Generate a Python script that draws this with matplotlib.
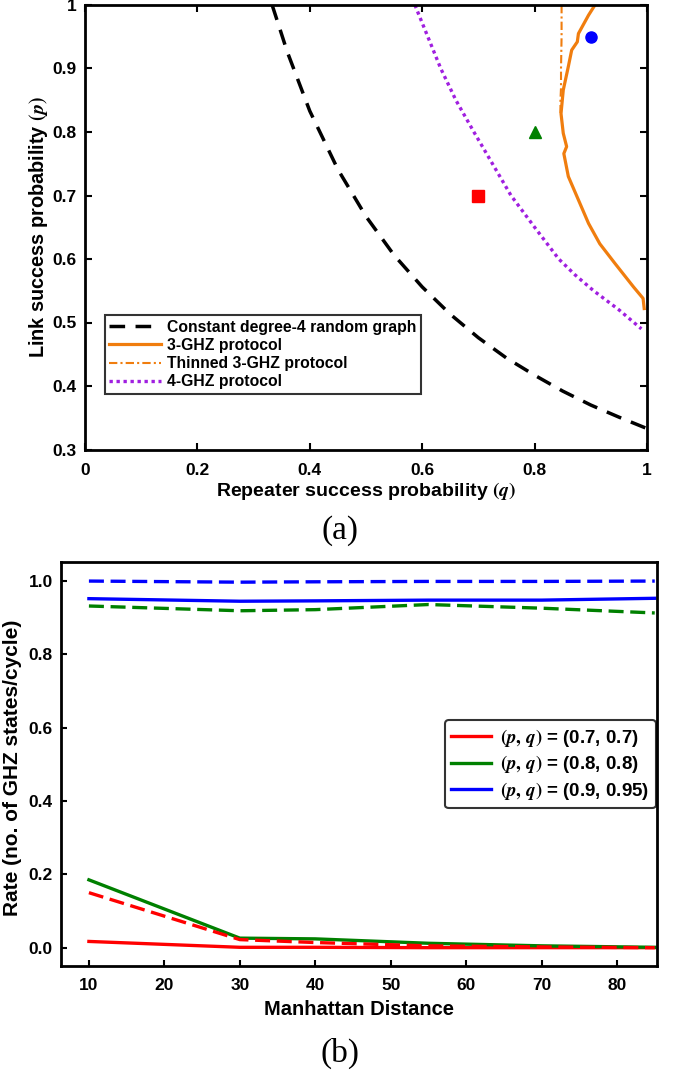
import numpy as np
import matplotlib
matplotlib.use("Agg")
import matplotlib.pyplot as plt
from matplotlib.ticker import FuncFormatter

plt.rcParams['font.family'] = ['Liberation Sans', 'DejaVu Sans']
plt.rcParams['font.weight'] = 'bold'
plt.rcParams['mathtext.fontset'] = 'stix'

# ---- panel (a): phase boundaries (q, p) ----
rg_q = [0.333, 0.36, 0.4, 0.45, 0.5, 0.55, 0.6, 0.65, 0.7, 0.75, 0.8, 0.85, 0.9, 0.95, 1.0]
rg_p = [1.0, 0.926, 0.833, 0.741, 0.667, 0.606, 0.556, 0.513, 0.476, 0.444, 0.417, 0.392, 0.370, 0.351, 0.333]

ghz3_q = [0.906, 0.896, 0.878, 0.876, 0.866, 0.860, 0.851, 0.847, 0.851, 0.857, 0.852,
          0.860, 0.878, 0.896, 0.916, 0.943, 0.976, 0.993, 0.995]
ghz3_p = [0.998, 0.984, 0.955, 0.942, 0.929, 0.903, 0.866, 0.829, 0.798, 0.777, 0.766,
          0.730, 0.693, 0.656, 0.624, 0.593, 0.556, 0.538, 0.522]

thin_q = [0.848, 0.848, 0.847, 0.847, 0.846, 0.846]
thin_p = [1.0, 0.95, 0.9, 0.87, 0.85, 0.83]

ghz4_q = [0.587, 0.61, 0.633, 0.66, 0.692, 0.725, 0.758, 0.80, 0.843, 0.872, 0.905, 0.95, 0.99]
ghz4_p = [1.0, 0.95, 0.9, 0.85, 0.8, 0.75, 0.7, 0.65, 0.6, 0.575, 0.55, 0.52, 0.49]

pts_q = [0.7, 0.8, 0.9]
pts_p = [0.7, 0.8, 0.95]
pts_col = ['red', 'green', 'blue']
pts_mark = ['s', '^', 'o']

# ---- panel (b): rate vs Manhattan distance ----
dist = [10, 30, 40, 55, 70, 85]
red_solid = [0.017, 0.001, 0.001, 0.0, 0.0, 0.0]
red_dash = [0.150, 0.022, 0.014, 0.005, 0.002, 0.0]
green_solid = [0.185, 0.026, 0.024, 0.012, 0.005, 0.001]
green_dash = [0.932, 0.919, 0.922, 0.936, 0.926, 0.913]
blue_solid = [0.952, 0.945, 0.946, 0.948, 0.948, 0.953]
blue_dash = [1.0, 0.997, 0.998, 0.999, 0.999, 1.0]
labels_b = [r'$(p,\,q)$ = (0.7, 0.7)', r'$(p,\,q)$ = (0.8, 0.8)', r'$(p,\,q)$ = (0.9, 0.95)']

fig = plt.figure(figsize=(6.85, 10.71), dpi=100)

# ---------------- top ----------------
ax = fig.add_axes([85/685, 1 - 449.5/1071, 562/685, 444.5/1071])
ax.plot(rg_q, rg_p, color='black', lw=2.5, ls=(0, (4.5, 3)), label='Constant degree-4 random graph')
ax.plot(ghz3_q, ghz3_p, color='#F07D0E', lw=2.3, label='3-GHZ protocol')
ax.plot(thin_q, thin_p, color='#F07D0E', lw=1.5, ls=(0, (4, 1.5, 1, 1.5)), label='Thinned 3-GHZ protocol')
ax.plot(ghz4_q, ghz4_p, color='#A01FE0', lw=2.4, ls=(0, (1, 1.1)), label='4-GHZ protocol')
for q, p, c, m in zip(pts_q, pts_p, pts_col, pts_mark):
    ax.plot(q, p, marker=m, color=c, ms=8, ls='none')
ax.set_xlim(0, 1)
ax.set_ylim(0.3, 1)
ax.set_xticks([0, 0.2, 0.4, 0.6, 0.8, 1])
ax.set_yticks([0.3, 0.4, 0.5, 0.6, 0.7, 0.8, 0.9, 1])
fmt = FuncFormatter(lambda v, pos: '{:g}'.format(round(v, 2)))
ax.xaxis.set_major_formatter(fmt)
ax.yaxis.set_major_formatter(fmt)
ax.tick_params(direction='in', top=True, right=True, length=5, width=1.5, labelsize=12.5)
ax.tick_params(axis='x', pad=10)
ax.tick_params(axis='y', pad=6)
for s in ax.spines.values():
    s.set_linewidth(2)
ax.set_xlabel(r'Repeater success probability $(q)$', fontsize=14, fontweight='bold', labelpad=1)
ax.set_ylabel(r'Link success probability $(p)$', fontsize=14.3, fontweight='bold')
ax.yaxis.set_label_coords(-0.062, 0.5)
leg = ax.legend(loc='lower left', bbox_to_anchor=(0.035, 0.125), fontsize=11.3, frameon=True,
                fancybox=False, edgecolor='black', handlelength=3.3, borderpad=0.3,
                labelspacing=0.2, handletextpad=0.35, borderaxespad=0)
leg.get_frame().set_linewidth(1.5)

# ---------------- bottom ----------------
ax2 = fig.add_axes([61/685, 1 - 966/1071, 596/685, 404/1071])
ax2.plot(dist, red_solid, color='red', lw=2.4, label=labels_b[0])
ax2.plot(dist, green_solid, color='green', lw=2.4, label=labels_b[1])
ax2.plot(dist, blue_solid, color='blue', lw=2.4, label=labels_b[2])
ax2.plot(dist, red_dash, color='red', lw=2.4, ls=(0, (4.5, 2)))
ax2.plot(dist, green_dash, color='green', lw=2.4, ls=(0, (4.5, 2)))
ax2.plot(dist, blue_dash, color='blue', lw=2.4, ls=(0, (4.5, 2)))
ax2.set_xlim(6.3, 85.3)
ax2.set_ylim(-0.05, 1.052)
ax2.set_xticks([10, 20, 30, 40, 50, 60, 70, 80])
ax2.set_yticks([0.0, 0.2, 0.4, 0.6, 0.8, 1.0])
ax2.yaxis.set_major_formatter(FuncFormatter(lambda v, pos: '{:.1f}'.format(v)))
ax2.tick_params(direction='in', length=4.5, width=1.5, labelsize=12.5)
ax2.tick_params(axis='x', pad=9)
ax2.tick_params(axis='y', pad=6)
for s in ax2.spines.values():
    s.set_linewidth(2)
ax2.set_xlabel('Manhattan Distance', fontsize=14.5, fontweight='bold', labelpad=5)
ax2.set_ylabel('Rate (no. of GHZ states/cycle)', fontsize=15, fontweight='bold')
ax2.yaxis.set_label_coords(-0.066, 0.49)
leg2 = ax2.legend(loc='lower right', bbox_to_anchor=(0.998, 0.39), fontsize=13.5, frameon=True,
                  fancybox=True, edgecolor='black', handlelength=2.1, borderpad=0.35,
                  labelspacing=0.25, handletextpad=0.5, borderaxespad=0)
leg2.get_frame().set_linewidth(1.5)

fig.text(340 / 685, 1 - 531 / 1071, '(a)', ha='center', va='center', fontsize=24,
         family='Liberation Serif', fontweight='normal')
fig.text(340 / 685, 1 - 1053 / 1071, '(b)', ha='center', va='center', fontsize=24,
         family='Liberation Serif', fontweight='normal')

fig.savefig('out.png', dpi=100)
